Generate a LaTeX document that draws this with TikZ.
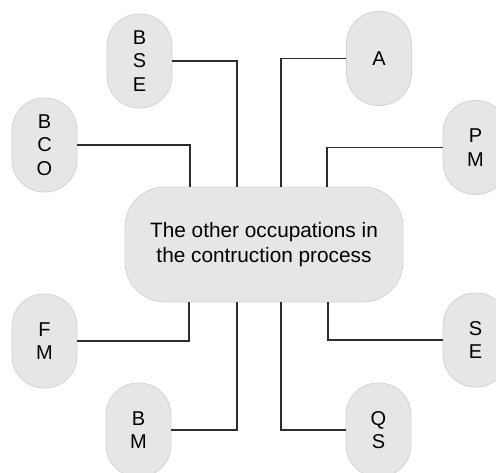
\documentclass[tikz,border=0pt]{standalone}
\usepackage{fontspec}
\setmainfont{Liberation Sans}
\usetikzlibrary{calc}
\definecolor{pgray}{RGB}{230,230,231}
\definecolor{pedge}{RGB}{212,212,212}
\definecolor{plink}{RGB}{45,45,45}

\begin{document}
\begin{tikzpicture}[x=0.5pt,y=-0.5pt,
  pill/.style={draw=pedge,fill=pgray,rounded corners=16pt,minimum width=32.5pt,
    minimum height=47pt,inner sep=0pt,align=center,font=\fontsize{10}{11.8}\selectfont},
  hub/.style={draw=pedge,fill=pgray,rounded corners=20pt,minimum width=139pt,
    minimum height=57.5pt,inner sep=0pt,align=center,font=\fontsize{10.4}{12.8}\selectfont},
  link/.style={plink,line width=0.65pt}]
\clip (0,0) rectangle (496,472);
\node[hub] (hub) at (264,244.5) {The other occupations in\\the contruction process};
\foreach \nm/\px/\py/\lab in {bse/139.5/61/{B\\S\\E}, a/379/58.5/A, bco/44.5/145/{B\\C\\O},
  pm/475.5/147.5/{P\\M}, fm/44.5/341/{F\\M}, se/475.5/340/{S\\E},
  bm/138.5/430/{B\\M}, qs/378.5/430/{Q\\S}}
  \node[pill] (\nm) at (\px,\py) {\lab};
% top side
\draw[link] (bse.east) -| ([xshift=-13.5pt]hub.north);
\draw[link] (a.west) -| ([xshift=8.5pt]hub.north);
\draw[link] (bco.east) -| ([xshift=-37pt]hub.north);
\draw[link] (pm.west) -| ([xshift=31.5pt]hub.north);
% bottom side
\draw[link] (fm.east) -| ([xshift=-37.5pt]hub.south);
\draw[link] (bm.east) -| ([xshift=-13.5pt]hub.south);
\draw[link] (qs.west) -| ([xshift=8.5pt]hub.south);
\draw[link] (se.west) -| ([xshift=32pt]hub.south);
\end{tikzpicture}
\end{document}
